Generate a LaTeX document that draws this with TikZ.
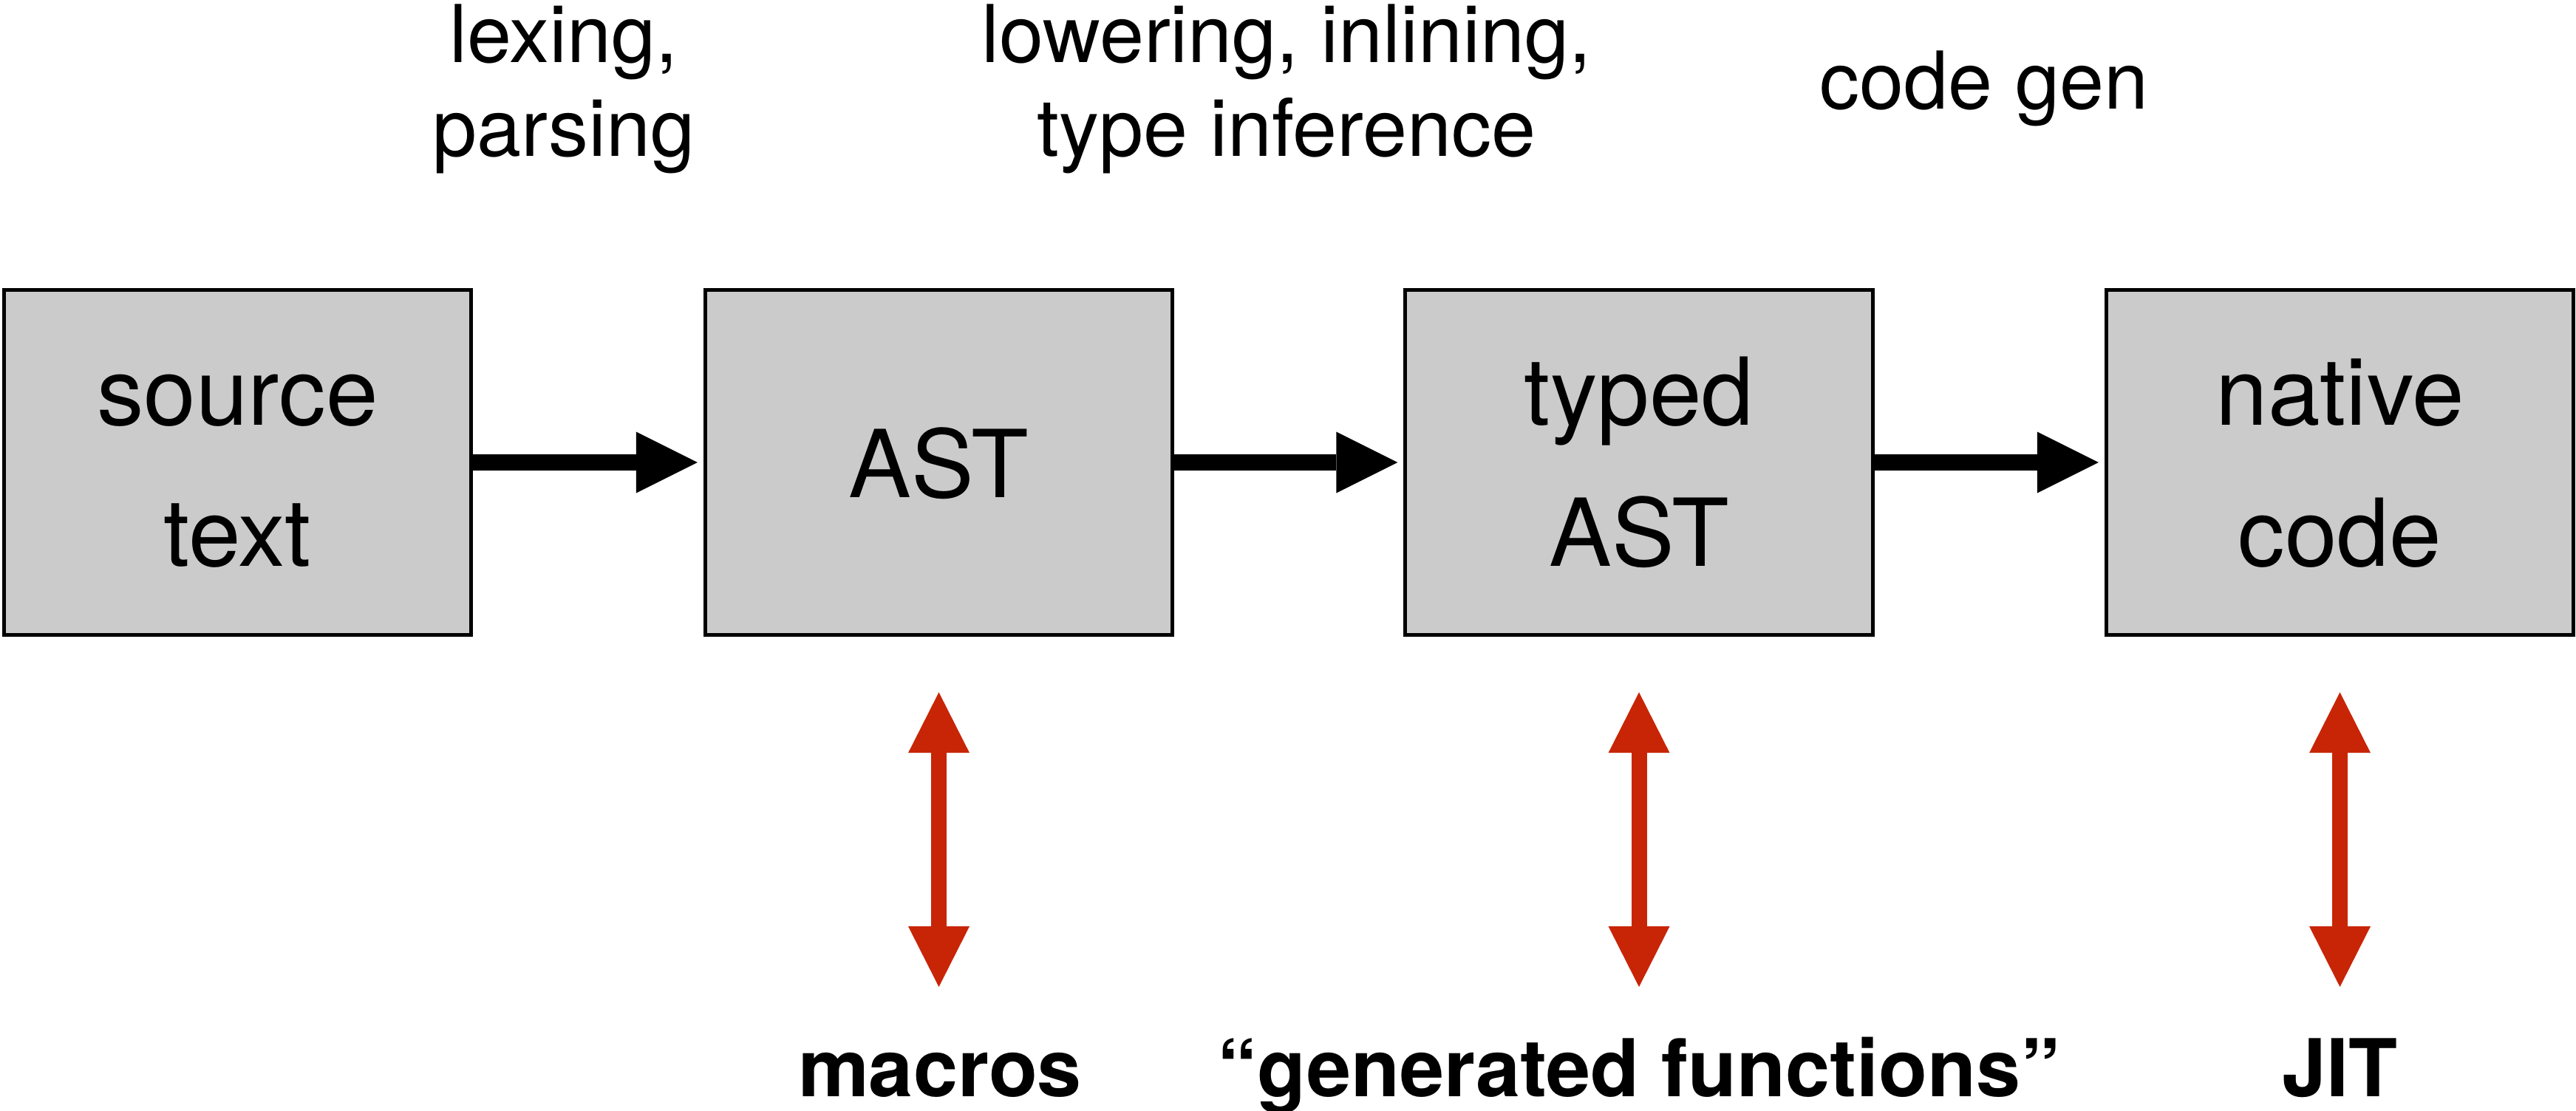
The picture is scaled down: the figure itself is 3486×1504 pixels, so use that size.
\documentclass[tikz,border=0pt]{standalone}
\usepackage{fontspec}
\setmainfont{TeX Gyre Heros}
\usetikzlibrary{arrows.meta}
\definecolor{boxgray}{RGB}{203,203,203}
\definecolor{hookred}{RGB}{200,37,6}
\begin{document}
\begin{tikzpicture}[x=0.01cm,y=-0.01cm,
  stagebox/.style={draw=black, fill=boxgray, line width=0.05cm, minimum width=6.32cm, minimum height=4.67cm, inner sep=0pt},
  boxtxt/.style={anchor=base, inner sep=0pt, font=\fontsize{36.1}{43}\selectfont},
  steptxt/.style={anchor=base, inner sep=0pt, font=\fontsize{30.7}{36}\selectfont},
  hooktxt/.style={anchor=base, inner sep=0pt, font=\bfseries\fontsize{30.7}{36}\selectfont},
  flow/.style={line width=0.22cm, -{Triangle[length=0.83cm,width=0.83cm,line width=0pt]}, shorten >=0.08cm},
  hook/.style={line width=0.21cm, draw=hookred, fill=hookred,
    {Triangle[length=0.82cm,width=0.83cm,line width=0pt]}-{Triangle[length=0.82cm,width=0.83cm,line width=0pt]}}]
\useasboundingbox (0,0) rectangle (3486,1504);

% stage boxes
\node[stagebox] (src) at (321.5,626) {};
\node[stagebox] (ast) at (1270.5,626) {};
\node[stagebox] (typed) at (2218,626) {};
\node[stagebox] (native) at (3166.5,626) {};

% box texts
\node[boxtxt] (srcA) at (321.5,576) {source};
\node[boxtxt] (srcB) at (321.5,767) {text};
\node[boxtxt] (astA) at (1270.5,674) {AST};
\node[boxtxt] (typedA) at (2218,576) {typed};
\node[boxtxt] (typedB) at (2218,767) {AST};
\node[boxtxt] (nativeA) at (3166.5,576) {native};
\node[boxtxt] (nativeB) at (3166.5,767) {code};

% step labels
\node[steptxt] (lexA) at (763,85) {lexing,};
\node[steptxt] (lexB) at (763,212) {parsing};
\node[steptxt] (lowA) at (1741,85) {lowering, inlining,};
\node[steptxt] (lowB) at (1741,212) {type inference};
\node[steptxt] (gen) at (2685,148) {code gen};

% flow arrows
\draw[flow] (src.east) -- (ast.west);
\draw[flow] (ast.east) -- (typed.west);
\draw[flow] (typed.east) -- (native.west);

% hook arrows
\coordinate (hkA) at (1270.5,1336);
\coordinate (hkB) at (2218,1336);
\coordinate (hkC) at (3166.5,1336);
\draw[hook, shorten <=0.75cm] (ast.south) -- (hkA);
\draw[hook, shorten <=0.75cm] (typed.south) -- (hkB);
\draw[hook, shorten <=0.75cm] (native.south) -- (hkC);

% hook labels
\node[hooktxt] (macros) at (1272,1485) {macros};
\node[hooktxt] (genfun) at (2218,1485) {“generated functions”};
\node[hooktxt] (jit) at (3166,1485) {JIT};
\end{tikzpicture}
\end{document}
